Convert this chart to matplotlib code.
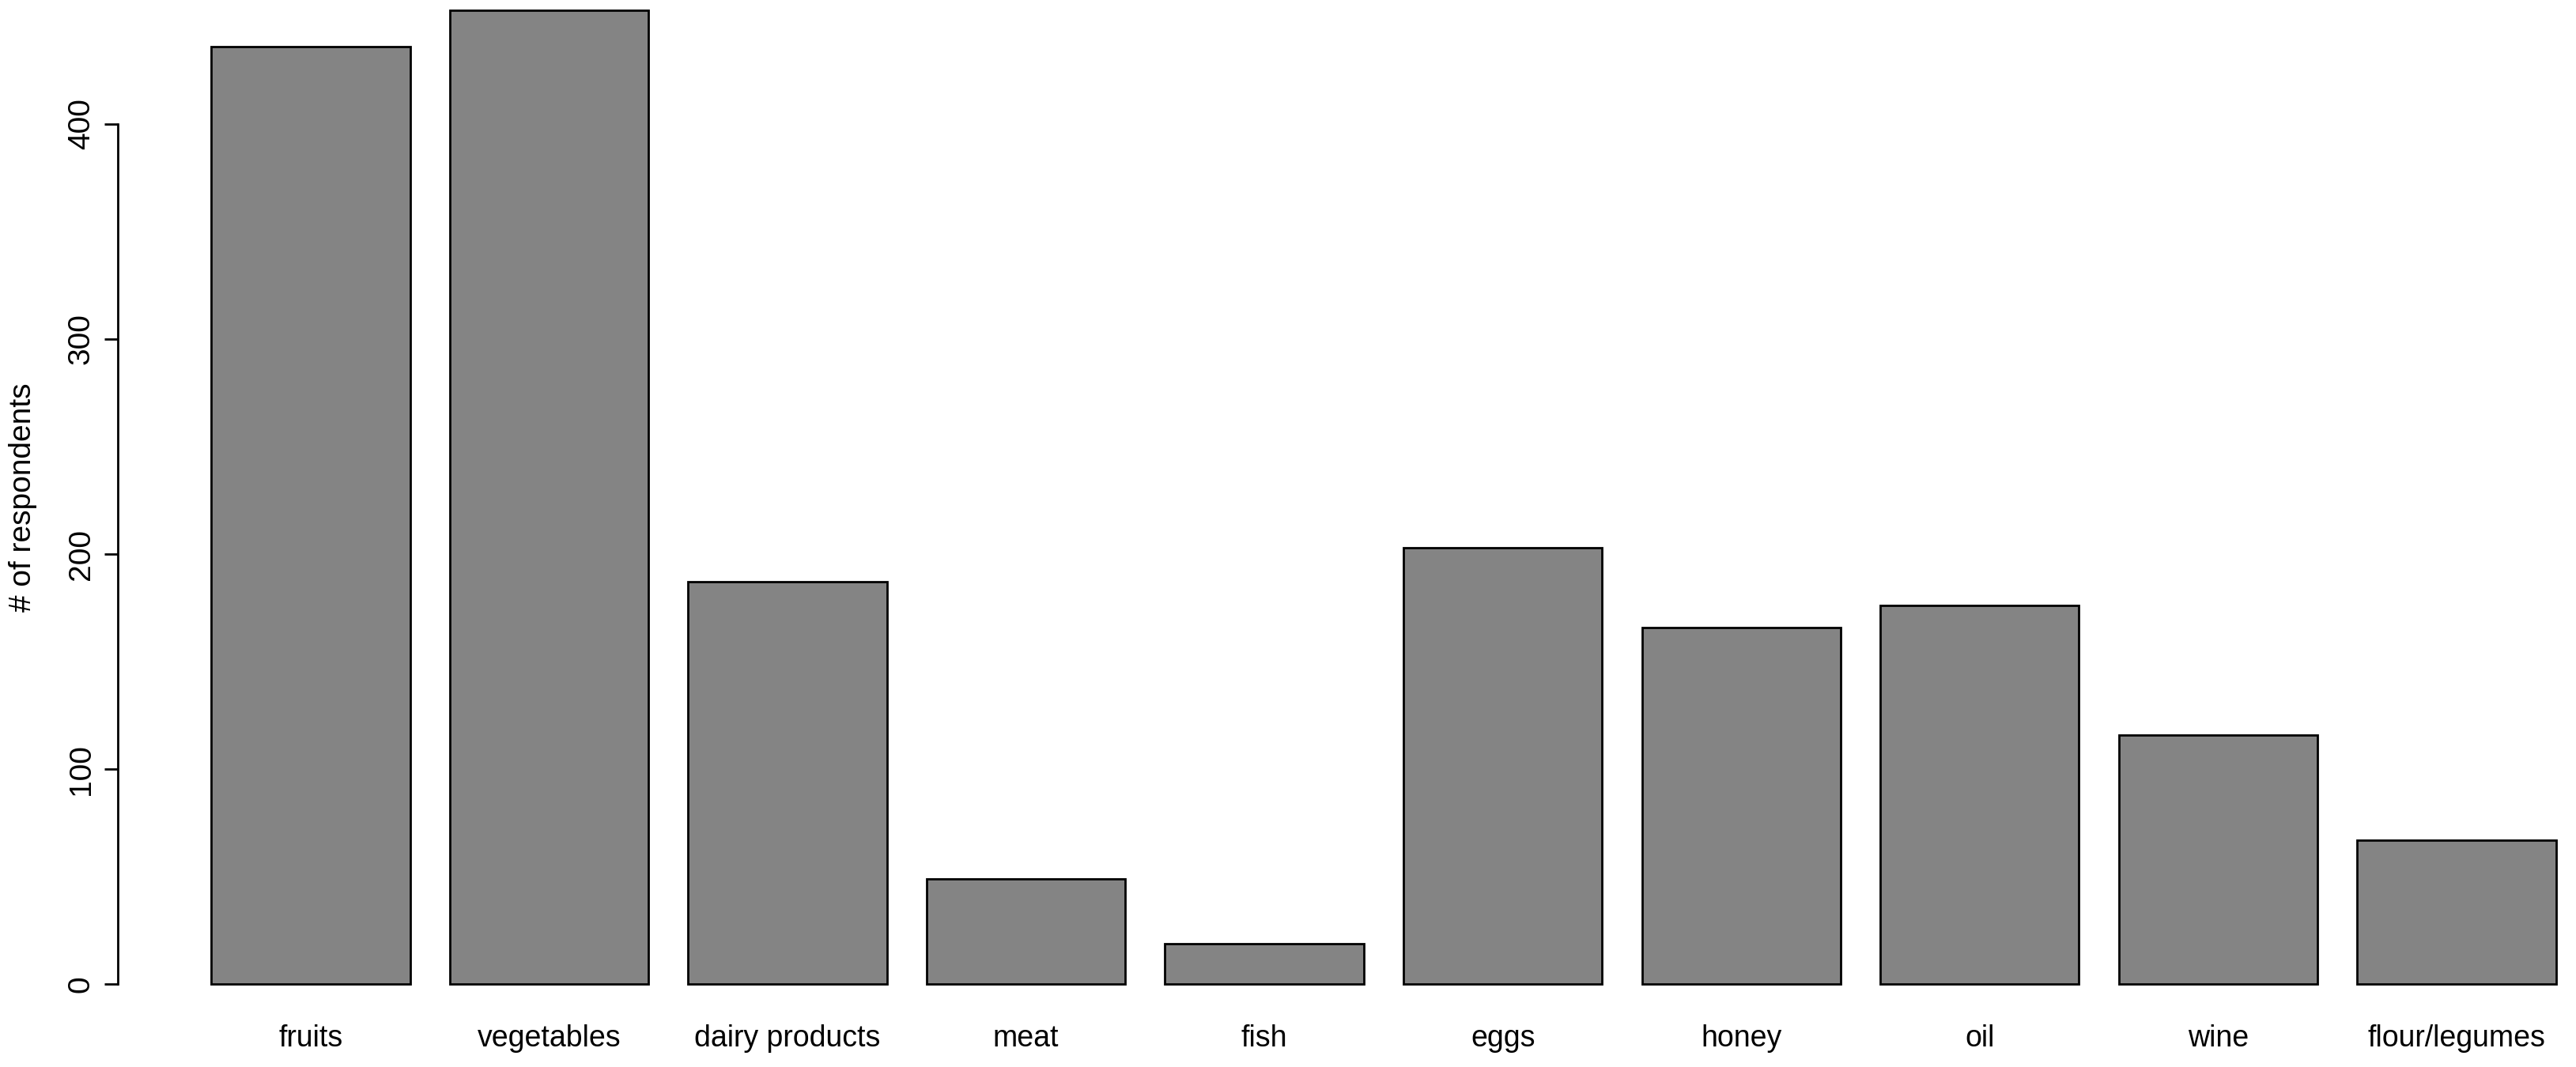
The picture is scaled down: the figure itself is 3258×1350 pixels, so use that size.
import matplotlib
matplotlib.use("Agg")
import matplotlib.pyplot as plt
import numpy as np

categories = ["fruits", "vegetables", "dairy products", "meat", "fish",
              "eggs", "honey", "oil", "wine", "flour/legumes"]
respondents = [436, 453, 187, 49, 19, 203, 166, 176, 116, 67]
y_ticks = [0, 100, 200, 300, 400]
y_label = "# of respondents"

plt.rcParams['font.family'] = ['Liberation Sans', 'DejaVu Sans']

W, H = 3258, 1350
fig = plt.figure(figsize=(W / 100, H / 100), dpi=100)
ax = fig.add_axes([148.6 / W, 0.04111, 3202.6 / W, 0.98607])

# R barplot geometry: width 1, space 0.2
n = len(categories)
centers = 0.7 + 1.2 * np.arange(n)
ax.bar(centers, respondents, width=1.0, color='#848484', edgecolor='black',
       linewidth=2.0)

vmax = max(respondents)
ax.set_xlim(0.2 - 0.04 * (1.2 * n - 0.2), 1.2 * n + 0.04 * (1.2 * n - 0.2))
ax.set_ylim(-0.04 * vmax, 1.04 * vmax)

for s in ['top', 'right', 'bottom']:
    ax.spines[s].set_visible(False)
ax.spines['left'].set_bounds(y_ticks[0], y_ticks[-1])
ax.spines['left'].set_linewidth(2.0)

ax.set_yticks(y_ticks)
ax.set_yticklabels([str(t) for t in y_ticks], fontsize=28)
ax.tick_params(axis='y', length=12, width=2.0, pad=8, direction='out')
for lab in ax.get_yticklabels():
    lab.set_rotation(90)
    lab.set_va('center')
    lab.set_ha('right')

ax.set_xticks(centers)
ax.set_xticklabels(categories, fontsize=27)
ax.tick_params(axis='x', length=0, pad=1)

ax.set_ylabel(y_label, fontsize=28)
ax.yaxis.set_label_coords((47 - 148.6) / 3202.6, 0.5)

fig.savefig("out.png", dpi=100)
